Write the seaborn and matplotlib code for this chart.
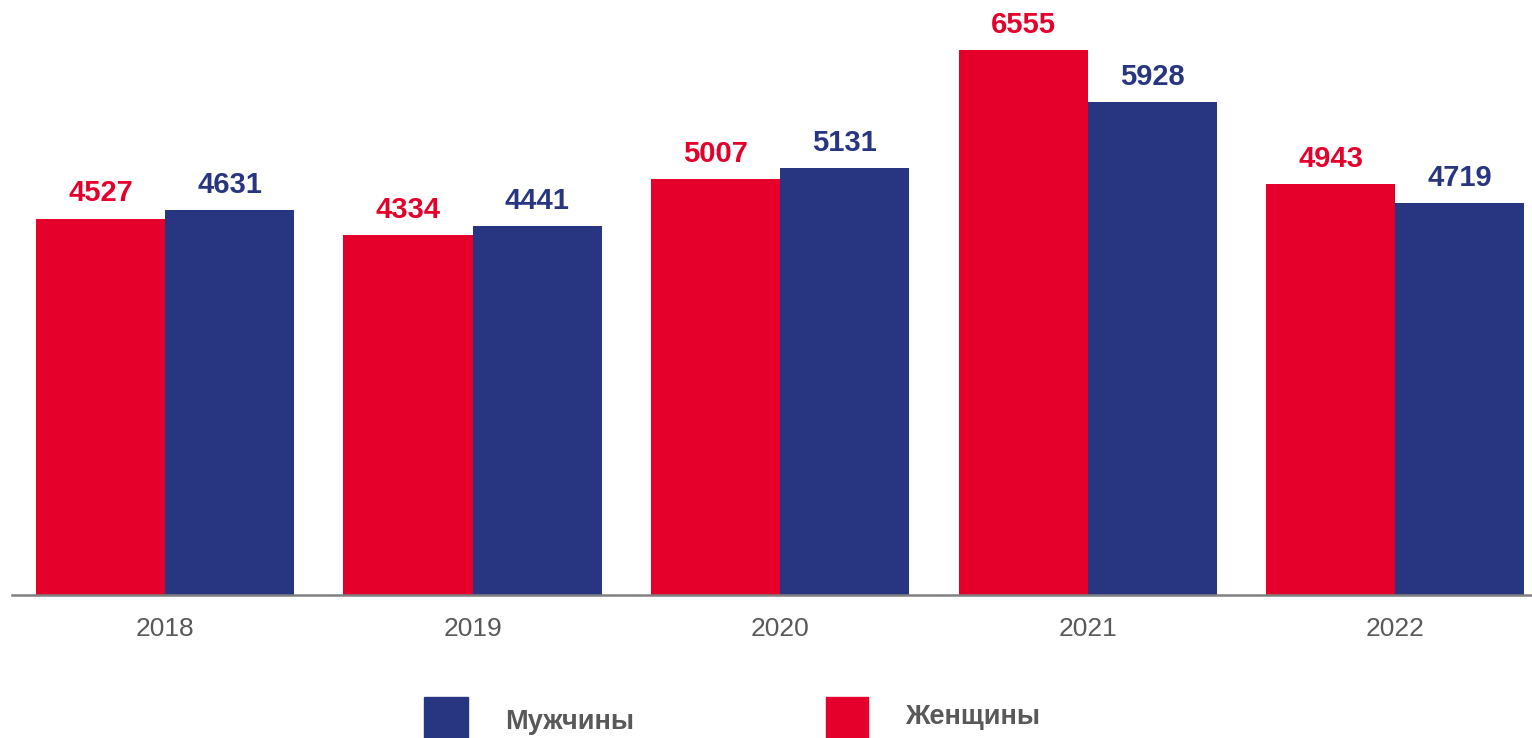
import matplotlib.pyplot as plt
import pandas as pd
import seaborn as sns
from matplotlib.patches import Rectangle

years = ["2018", "2019", "2020", "2021", "2022"]
women = [4527, 4334, 5007, 6555, 4943]
men = [4631, 4441, 5131, 5928, 4719]
series_names = ["Женщины", "Мужчины"]

RED = "#E4002B"
BLUE = "#283682"
GREY = "#595959"


def main() -> None:
    sns.set_theme(style="white")
    plt.rcParams["font.family"] = ["Liberation Sans", "DejaVu Sans"]

    df = pd.DataFrame({
        "year": years * 2,
        "value": women + men,
        "sex": [series_names[0]] * len(years) + [series_names[1]] * len(years),
    })

    fig = plt.figure(figsize=(15.32, 7.38), dpi=100)
    ax = fig.add_axes([12 / 1532, 143 / 738, 1 - 12 / 1532, 595 / 738])

    sns.barplot(
        data=df, x="year", y="value", hue="sex", hue_order=series_names,
        palette=[RED, BLUE], width=0.84, gap=0, saturation=1,
        edgecolor="none", linewidth=0, ax=ax, legend=False,
    )

    for container, color in zip(ax.containers, [RED, BLUE]):
        ax.bar_label(container, fmt="%d", padding=8, color=color,
                     fontsize=21, fontweight="bold")

    ax.set_xlim(-0.498, 4.445)
    ax.set_ylim(0, 7156)
    ax.set_xlabel("")
    ax.set_ylabel("")
    ax.set_yticks([])
    ax.tick_params(axis="x", length=0, pad=16, labelsize=19, labelcolor=GREY)
    for side in ["top", "right", "left"]:
        ax.spines[side].set_visible(False)
    ax.spines["bottom"].set_color("#808080")
    ax.spines["bottom"].set_linewidth(1.8)

    # legend drawn by hand, as in the original layout
    W, H = 1532, 738
    fig.patches.append(Rectangle((424 / W, 0), 44 / W, 41 / H,
                                 transform=fig.transFigure, color=BLUE))
    fig.text(505 / W, 1 - 722 / H, series_names[1], fontsize=19.5,
             fontweight="bold", color=GREY, va="center")
    fig.patches.append(Rectangle((826 / W, 0), 42 / W, 41 / H,
                                 transform=fig.transFigure, color=RED))
    fig.text(905 / W, 1 - 717 / H, series_names[0], fontsize=19.5,
             fontweight="bold", color=GREY, va="center")

    fig.savefig("out.png", dpi=100)
    plt.close(fig)


if __name__ == "__main__":
    main()
